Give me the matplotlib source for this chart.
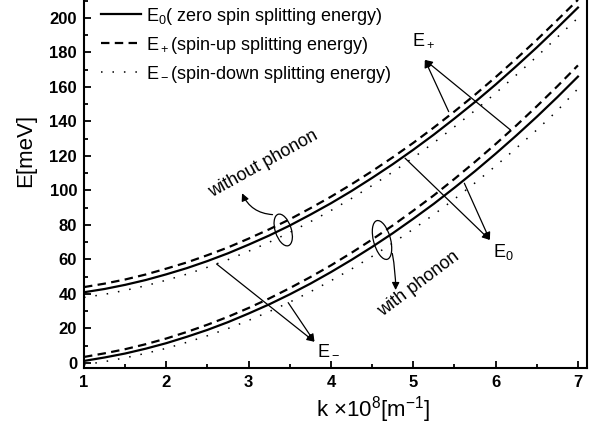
import matplotlib
matplotlib.use("Agg")
import matplotlib.pyplot as plt
import matplotlib.patches as mpatches
from matplotlib.transforms import ScaledTranslation

plt.rcParams["font.family"] = ["Liberation Sans", "DejaVu Sans"]
plt.rcParams["mathtext.fontset"] = "custom"
plt.rcParams["mathtext.rm"] = "Liberation Sans"
plt.rcParams["mathtext.it"] = "Liberation Sans:italic"
plt.rcParams["mathtext.bf"] = "Liberation Sans:bold"

# wave vector k (x 10^8 m^-1)
k = [1.0, 1.25, 1.5, 1.75, 2.0, 2.25, 2.5, 2.75, 3.0, 3.25, 3.5, 3.75, 4.0,
     4.25, 4.5, 4.75, 5.0, 5.25, 5.5, 5.75, 6.0, 6.25, 6.5, 6.75, 7.0]

# without phonon (upper group), meV
e0_free = [41.0, 42.9, 45.3, 48.1, 51.4, 55.0, 59.1, 63.6, 68.6, 73.9, 79.7,
           86.0, 92.6, 99.7, 107.3, 115.2, 123.6, 132.4, 141.7, 151.3, 161.4,
           172.0, 182.9, 194.3, 206.0]
eup_free = [44.0, 46.0, 48.4, 51.3, 54.7, 58.3, 62.5, 67.0, 72.1, 77.5, 83.3,
            89.7, 96.4, 103.6, 111.2, 119.2, 127.6, 136.5, 145.8, 155.5, 165.7,
            176.3, 187.3, 198.8, 210.5]
edn_free = [38.0, 39.8, 42.1, 44.8, 48.0, 51.5, 55.5, 59.9, 64.8, 70.0, 75.7,
            81.9, 88.4, 95.4, 102.9, 110.7, 119.0, 127.7, 136.9, 146.4, 156.4,
            166.9, 177.6, 188.9, 200.0]

# with phonon (lower group), meV
e0_ph = [1.2, 3.2, 5.5, 8.3, 11.5, 15.2, 19.2, 23.7, 28.7, 34.0, 39.8, 46.0,
         52.7, 59.8, 67.3, 75.2, 83.6, 92.3, 101.6, 111.2, 121.3, 131.8, 142.7,
         154.1, 166.0]
eup_ph = [3.5, 5.6, 8.0, 10.9, 14.2, 18.0, 22.2, 26.8, 31.9, 37.4, 43.4, 49.8,
          56.6, 63.9, 71.6, 79.7, 88.3, 97.2, 106.7, 116.6, 126.9, 137.6, 148.8,
          160.4, 172.5]
edn_ph = [-1.0, 0.8, 3.0, 5.6, 8.5, 12.0, 15.8, 20.0, 24.7, 29.8, 35.3, 41.3,
          47.7, 54.5, 61.8, 69.5, 77.6, 86.1, 95.0, 104.4, 114.2, 124.5, 135.1,
          146.3, 159.0]

legend_labels = ["E$_0$( zero spin splitting energy)",
                 "E$_+$(spin-up splitting energy)",
                 "E$_-$(spin-down splitting energy)"]

fig = plt.figure(figsize=(6, 4.32), dpi=100)
ax = fig.add_axes([84 / 600, 64 / 432, 503 / 600, 368 / 432])

solid = dict(color="black", lw=1.6, linestyle="-")
dashed = dict(color="black", lw=1.6, linestyle=(0, (3.8, 2.4)))
dotted = dict(color="black", lw=1.1, linestyle=(0, (1, 6.5)))

ax.plot(k, e0_free, label=legend_labels[0], **solid)
ax.plot(k, eup_free, label=legend_labels[1], **dashed)
ax.plot(k, edn_free, label=legend_labels[2], **dotted)
ax.plot(k, e0_ph, **solid)
ax.plot(k, eup_ph, **dashed)
ax.plot(k, edn_ph, **dotted)

ax.set_xlim(1, 7.11)
ax.set_ylim(-2.9, 210.4)
ax.set_xticks([1, 2, 3, 4, 5, 6, 7])
ax.set_xticks([1.5, 2.5, 3.5, 4.5, 5.5, 6.5], minor=True)
ax.set_yticks(range(0, 201, 20))
ax.set_yticks(range(10, 211, 20), minor=True)
ax.tick_params(which="both", direction="in", width=1.3)
ax.tick_params(which="major", length=5, labelsize=12, pad=5)
ax.tick_params(which="minor", length=3)
for lab in ax.get_xticklabels() + ax.get_yticklabels():
    lab.set_fontweight("bold")
for side in ["left", "bottom", "right"]:
    ax.spines[side].set_linewidth(1.5)
ax.spines["top"].set_visible(False)

ax.set_xlabel("k \u00d710$^8$[m$^{-1}$]", fontsize=16)
ax.set_ylabel("E[meV]", fontsize=16)
ax.xaxis.set_label_coords(0.575, -0.07)
ax.yaxis.set_label_coords(-0.095, 0.59)

ax.legend(loc="upper left", bbox_to_anchor=(0.034, 0.985), frameon=False,
          fontsize=13, handlelength=2.2, handletextpad=0.3,
          labelspacing=0.45, borderaxespad=0, borderpad=0)

arrow = dict(arrowstyle="-|>", color="black", lw=0.9, shrinkA=0, shrinkB=0,
             mutation_scale=11)

# E+ label and pointers
ax.text(4.99, 184.3, "E$_+$", fontsize=13, ha="left", va="baseline")
for start in [(5.43, 145.7), (6.18, 135.1)]:
    ax.annotate("", xy=(5.14, 175.7), xytext=start, arrowprops=arrow)

# E0
ax.text(5.97, 61.6, "E$_0$", fontsize=13, ha="left", va="baseline")
for start in [(4.90, 118.7), (5.62, 104.2)]:
    ax.annotate("", xy=(5.93, 71.3), xytext=start, arrowprops=arrow)

# E-
ax.text(3.83, 5.2, "E$_-$", fontsize=13, ha="left", va="baseline")
for start in [(2.61, 57.4), (3.48, 35.0)]:
    ax.annotate("", xy=(3.80, 12.3), xytext=start, arrowprops=arrow)


def loop(x, y, w, h, angle):
    tr = fig.dpi_scale_trans + ScaledTranslation(x, y, ax.transData)
    ax.add_patch(mpatches.Ellipse((0, 0), w / 100, h / 100, angle=angle,
                                  fill=False, lw=0.9, color="black",
                                  transform=tr))


# without phonon
loop(3.42, 77.1, 16, 33, 18)
ax.annotate("", xy=(2.92, 98.4), xytext=(3.29, 86.0),
            arrowprops=dict(arrow, connectionstyle="arc3,rad=-0.3"))
ax.text(3.18, 115.4, "without phonon", fontsize=13, rotation=29,
        rotation_mode="anchor", ha="center", va="center")

# with phonon
loop(4.62, 71.3, 17, 40, 15)
ax.annotate("", xy=(4.785, 42.3), xytext=(4.745, 63.5),
            arrowprops=dict(arrow, connectionstyle="arc3,rad=-0.05"))
ax.text(5.07, 45.8, "with phonon", fontsize=13, rotation=37,
        rotation_mode="anchor", ha="center", va="center")

fig.savefig("out.png", dpi=100)
